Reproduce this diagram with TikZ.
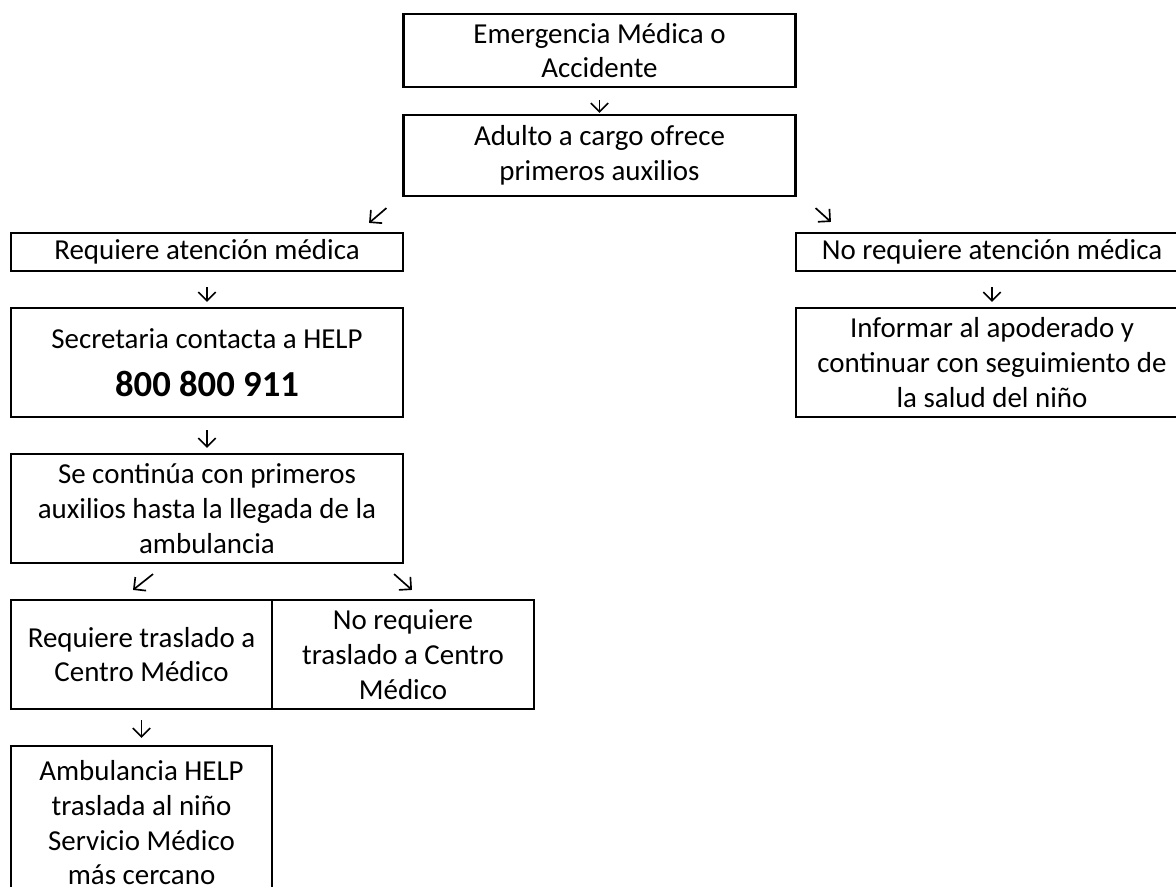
\documentclass[tikz,border=0pt]{standalone}
\usepackage{fontspec}
\setmainfont{Carlito}
\usetikzlibrary{arrows.meta}

\begin{document}
\begin{tikzpicture}[x=0.75pt,y=-0.75pt,>={Straight Barb[length=6.5pt,width=13pt]},
	box/.style={draw,line width=1.6pt,align=center,inner sep=0pt,font=\fontsize{21.7}{26}\selectfont},
	wide/.style={box,minimum width=294pt},
	half/.style={box,minimum width=196pt},
	arr/.style={->,line width=1.25pt},
	down/.style={arr,shorten <=11.25pt,shorten >=3.75pt}]
	\useasboundingbox (0,0) rectangle (1176,886);

	\node[wide,minimum height=54.75pt] (em)  at (599.5,50.5)  {Emergencia Médica o\\Accidente};
	\node[wide,minimum height=60.75pt] (ad)  at (599.5,155.5) {Adulto a cargo ofrece\\primeros auxilios};
	\node[wide,minimum height=28.5pt]  (rq)  at (207,252)     {Requiere atención médica};
	\node[wide,minimum height=28.5pt]  (nr)  at (992,252)     {No requiere atención médica};
	\node[wide,minimum height=81.75pt] (sc)  at (207,362.5)   {Secretaria contacta a HELP\\[10pt]{\fontsize{27.5}{30}\selectfont\bfseries 800 800 911}};
	\node[wide,minimum height=81.75pt] (inf) at (992,362.5)   {Informar al apoderado y\\continuar con seguimiento de\\la salud del niño};
	\node[wide,minimum height=81.75pt] (ct)  at (207,508.5)   {Se continúa con primeros\\auxilios hasta la llegada de la\\ambulancia};
	\node[half,minimum height=81.75pt] (tr)  at (141.5,654.5) {Requiere traslado a\\Centro Médico};
	\node[half,minimum height=81.75pt] (nt)  at (403,654.5)   {No requiere\\traslado a Centro\\Médico};
	\node[half,minimum height=115.5pt] (amb) at (141.5,823)   {Ambulancia HELP\\traslada al niño\\Servicio Médico\\más cercano};

	\draw[down,shorten <=9pt,shorten >=0.75pt] (em) -- (ad);
	\draw[arr] ([shift={(-16,11)}]ad.south west) -- ([shift={(-35,-9)}]rq.north east);
	\draw[arr] ([shift={(19,11)}]ad.south east) -- ([shift={(36,-10)}]nr.north west);
	\draw[down] (rq) -- (sc);
	\draw[down] (nr) -- (inf);
	\draw[down,shorten <=9pt] (sc) -- (ct);
	\draw[arr] ([shift={(-54,10)}]ct.south) -- ([shift={(-8.5,-9)}]tr.north);
	\draw[arr] ([shift={(-10,10)}]ct.south east) -- ([shift={(9,-9)}]nt.north);
	\draw[down,shorten <=7.5pt,shorten >=5.25pt] (tr) -- (amb);
\end{tikzpicture}
\end{document}
